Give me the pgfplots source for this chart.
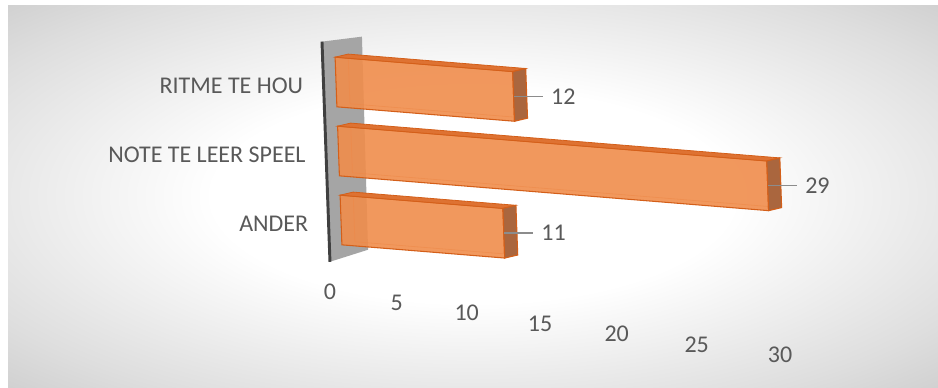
\documentclass[border=0pt]{standalone}
\usepackage{pgfplots}
\pgfplotsset{compat=1.18}
\usepackage{fontspec}
\setmainfont{Carlito}
\definecolor{barfill}{RGB}{240,141,76}
\definecolor{baredge}{RGB}{212,95,25}
\definecolor{barend}{RGB}{170,102,62}
\definecolor{bartop}{RGB}{222,114,50}
\definecolor{wallgray}{RGB}{165,165,165}
\definecolor{walldark}{RGB}{64,64,64}
\definecolor{txt}{RGB}{89,89,89}
\pgfdeclareradialshading{bgshade}{\pgfpoint{0bp}{0bp}}{color(0bp)=(white); color(14bp)=(white); color(30bp)=(black!13); color(50bp)=(black!32)}
\pgfplotsset{
  front/.style={fill=barfill, fill opacity=0.9, draw=baredge, draw opacity=1, line width=0.8pt, forget plot},
  topf/.style={fill=bartop, draw=baredge, line width=0.6pt, forget plot},
  endf/.style={fill=barend, draw=baredge, line width=0.8pt, forget plot},
  backe/.style={draw=baredge, draw opacity=0.55, line width=0.6pt, forget plot},
}
\begin{document}
\begin{tikzpicture}
\fill[white] (0pt,0pt) rectangle (703.5pt,-290.25pt);
\shade[shading=bgshade] (6pt,-3.75pt) rectangle (703.5pt,-290.25pt);
\begin{axis}[
  anchor=origin, at={(255.75pt,-165pt)},
  x={(11.1pt,-0.9pt)}, y={(-1.875pt,51.75pt)},
  xmin=-0.85, xmax=31, ymin=-0.7, ymax=2.7,
  clip=false,
  axis line style={draw=none},
  major tick length=0pt,
  tick style={draw=none},
  /pgf/number format/assume math mode=true,
  xtick={0,5,...,30},
  ytick={0,1,2},
  yticklabels={ANDER,NOTE TE LEER SPEEL,RITME TE HOU},
  ticklabel style={font=\fontsize{18}{21}\selectfont, text=txt, inner sep=0pt},
  yticklabel style={anchor=east, xshift=-15pt, yshift=-3.5pt},
  xticklabel style={anchor=center, xshift={(-9.56-6.75*\ticknum+1.25*\ticknum*\ticknum)*1pt}, yshift={-(17.8+3.375*\ticknum)*1pt}},
]
% wall
\addplot[fill=wallgray, draw=none, forget plot] coordinates {(-0.85,-0.62) (1.76,-0.40) (1.87,2.69) (-0.85,2.57)} -- cycle;
\addplot[draw=walldark, line width=2.2pt, forget plot] coordinates {(-0.85,-0.62) (-0.85,2.57)};
% ANDER = 11 (y = 0)
\addplot[backe] coordinates {(0.89,0.42) (0.89,-0.30) (11.89,-0.30)};
\addplot[front] coordinates {(0,-0.36) (11,-0.36) (11,0.36) (0,0.36)} -- cycle;
\addplot[topf] coordinates {(0,0.36) (11,0.36) (11.89,0.42) (0.89,0.42)} -- cycle;
\addplot[endf] coordinates {(11,-0.36) (11.89,-0.30) (11.89,0.42) (11,0.36)} -- cycle;
% NOTE TE LEER SPEEL = 29 (y = 1)
\addplot[backe] coordinates {(0.89,1.42) (0.89,0.70) (29.89,0.70)};
\addplot[front] coordinates {(0,0.64) (29,0.64) (29,1.36) (0,1.36)} -- cycle;
\addplot[topf] coordinates {(0,1.36) (29,1.36) (29.89,1.42) (0.89,1.42)} -- cycle;
\addplot[endf] coordinates {(29,0.64) (29.89,0.70) (29.89,1.42) (29,1.36)} -- cycle;
% RITME TE HOU = 12 (y = 2)
\addplot[backe] coordinates {(0.89,2.42) (0.89,1.70) (12.89,1.70)};
\addplot[front] coordinates {(0,1.64) (12,1.64) (12,2.36) (0,2.36)} -- cycle;
\addplot[topf] coordinates {(0,2.36) (12,2.36) (12.89,2.42) (0.89,2.42)} -- cycle;
\addplot[endf] coordinates {(12,1.64) (12.89,1.70) (12.89,2.42) (12,2.36)} -- cycle;
% value labels
\addplot[draw=none, mark=none, point meta=x,
  nodes near coords={\textcolor{black!45}{\rule[5.5pt]{22pt}{0.9pt}}\hspace{6pt}\pgfmathprintnumber{\pgfplotspointmeta}},
  every node near coord/.append style={anchor=west, inner sep=0pt, font=\fontsize{18}{21}\selectfont, text=txt}]
  coordinates {(11,0) (29,1) (12,2)};
\end{axis}
\end{tikzpicture}
\end{document}
